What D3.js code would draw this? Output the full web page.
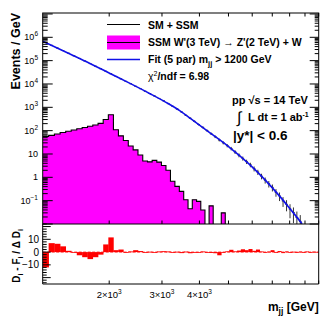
<!DOCTYPE html>
<html><head><meta charset="utf-8">
<script src="https://cdn.jsdelivr.net/npm/d3@7"></script>
<style>
html,body{margin:0;padding:0;background:#fff;}
svg{display:block;font-family:"Liberation Sans",Arial,Helvetica,sans-serif;}
</style></head><body>
<svg id="c" width="332" height="320"></svg>
<script>
// ---------- data ----------
const binEdges = [1200,1256,1313,1372,1432,1494,1559,1625,1693,1763,1836,1910,1987,2066,2147,2230,2316,2404,2495,2588,2684,2782,2883,2987,3093,3202,3313,3428,3545,3665,3787,3913,4042,4174,4308,4446,4587,4731,4878,5029,5183,5340,5500,5664,5831,6002,6177,6355,6537,6722,6911,7104,7301,7502,7707,7916,8129,8346,8568,8794,9024,9259,9498,9742,9990];
const signal = [56,63,72,83,94,107,120,137,154,175,205,300,480,110,60,38,22,15,9,5,4.6,5.3,4.5,3.2,2.0,0.68,0.41,0.25,0.11,0.045,0.11,0.093,0.04,0,0.06,0,0,0.03,0,0,0,0,0,0,0,0,0,0,0,0,0,0,0,0,0,0,0,0,0,0,0,0,0,0];
const dataValues = [6.0e5,4.55e5,3.49e5,2.70e5,2.09e5,1.60e5,1.24e5,9.7e4,7.5e4,5.8e4,4.5e4,3.5e4,2.75e4,2.11e4,1.65e4,1.30e4,1.02e4,8.0e3,6.3e3,4.9e3,3.9e3,3.06e3,2.39e3,1.89e3,1.44e3,1.10e3,843,634,454,341,251,183,138,101,74,55,40,30.3,22.8,17.2,12.2,8.9,6.5,4.7,3.45,2.35,1.68,1.12,0.76,0.53,0.37,0.23,0.16,0.098,0.07,0.044,0.031,0.019,0.013,0,0,0,0,0];
const dataRelErr = [0.004,0.004,0.005,0.005,0.006,0.006,0.007,0.007,0.008,0.009,0.01,0.011,0.012,0.013,0.015,0.016,0.018,0.02,0.022,0.025,0.028,0.03,0.034,0.038,0.042,0.047,0.052,0.058,0.065,0.072,0.08,0.09,0.1,0.11,0.12,0.13,0.14,0.15,0.16,0.17,0.18,0.19,0.2,0.21,0.22,0.24,0.25,0.27,0.29,0.31,0.33,0.36,0.4,0.45,0.5,0.6,0.65,0.8,0.85,0,0,0,0,0];
const residual = [-12,7,6.5,4.5,1,-0.5,-2.5,-4,-5.5,-4,-2,6,11.5,1.5,2,-0.5,0.5,1.5,0.8,-0.4,0.3,-0.6,0.5,0.7,0.5,-0.5,0.3,-0.8,0.4,-0.9,-0.5,-0.6,0.5,-0.3,-0.7,-0.9,-2.5,-0.4,0.6,1.8,0.6,1.2,2.2,1.5,2.4,1.0,2.0,0.5,-0.6,0.4,1.5,-0.3,0.8,-0.8,0.5,-0.6,0.3,-0.5,0.4,-0.3,0.5,-0.4,0.3,0.2];
const fitMass  = [1200,1480,1725,2013,2347,2736,3094,3446,3750,4338,5061,5900,6622,7430,8023,8531,8800];
const fitValue = [6.8e5,1.93e5,7.6e4,2.83e4,1.06e4,3.84e3,1630,706,321,81,18.5,3.43,0.78,0.149,0.045,0.017,0.0103];
const yTickValues = [1e-1,1,10,1e2,1e3,1e4,1e5,1e6];
const yTickLabels = [["10","\u22121"],["1",""],["10",""],["10","2"],["10","3"],["10","4"],["10","5"],["10","6"]];
const xTickValues = [2000,3000,4000];
const xTickLabels = [["2\u00d710","3"],["3\u00d710","3"],["4\u00d710","3"]];
const rTickValues = [-10,0,10];
const rTickLabels = ["\u221210","0","10"];
const legendLabels = ["SM + SSM","SSM W'(3 TeV) \u2192 Z'(2 TeV) + W","Fit (5 par) m","\u03c7"];

// ---------- layout ----------
const L=42.7, R=318.7, T=13, B1=224, B2=284;
const svg = d3.select("#c");
const x = d3.scaleLog().domain([1200,10000]).range([L,R]);
const y = d3.scaleLog().domain([0.01,1.1e7]).range([B1,T]);
const yr = d3.scaleLinear().domain([-25,22]).range([B2,B1]);

const bins = d3.range(signal.length).map(i=>({e0:binEdges[i],e1:binEdges[i+1],s:signal[i],d:dataValues[i],err:dataRelErr[i],r:residual[i]}));

const defs = svg.append("defs");
defs.append("clipPath").attr("id","cm").append("rect").attr("x",L).attr("y",T).attr("width",R-L).attr("height",B1-T);
defs.append("clipPath").attr("id","cr").append("rect").attr("x",L).attr("y",B1).attr("width",R-L).attr("height",B2-B1);

const main = svg.append("g").attr("clip-path","url(#cm)");
const yb = v => v>0 ? y(v) : B1+5;

// signal histogram: step outline + fill as one path
const pts=[];
bins.forEach(b=>{pts.push([x(b.e0),yb(b.s)]);pts.push([x(b.e1),yb(b.s)]);});
const fillPts = [[x(binEdges[0]),B1+5],...pts,[x(binEdges[binEdges.length-1]),B1+5]];
main.append("path").attr("d",d3.line()(fillPts)+"Z").attr("fill","#ff00ff").attr("stroke","none");
main.append("path").attr("d",d3.line()(pts)).attr("fill","none").attr("stroke","#000").attr("stroke-width",1.1);

// data points (vertical error bars + small marker)
const dg = main.append("g").attr("stroke","#000").attr("stroke-width",0.8);
bins.filter(b=>b.d>0).forEach(b=>{
  const xc = x(Math.sqrt(b.e0*b.e1)), yc=y(b.d);
  dg.append("line").attr("x1",xc-1.3).attr("x2",xc+1.3).attr("y1",yc).attr("y2",yc);
  const lo = b.d*(1-b.err), hi=b.d*(1+b.err);
  dg.append("line").attr("x1",xc).attr("x2",xc).attr("y1",lo>0?y(lo):B1+5).attr("y2",y(hi));
});

// fit
main.append("path")
  .attr("d",d3.line().x(d=>x(d[0])).y(d=>y(d[1])).curve(d3.curveMonotoneX)(fitMass.map((m,i)=>[m,fitValue[i]])))
  .attr("fill","none").attr("stroke","#1010e8").attr("stroke-width",1.6);

// residual panel
const rg = svg.append("g").attr("clip-path","url(#cr)");
rg.append("line").attr("x1",L).attr("x2",R).attr("y1",yr(0)).attr("y2",yr(0)).attr("stroke","#ff0000").attr("stroke-width",0.8).attr("stroke-dasharray","3,1.5");
rg.selectAll("rect").data(bins).join("rect")
  .attr("x",b=>x(b.e0)).attr("width",b=>x(b.e1)-x(b.e0)+0.3)
  .attr("y",b=>Math.min(yr(0),yr(b.r))).attr("height",b=>Math.max(0.8,Math.abs(yr(b.r)-yr(0))))
  .attr("fill","#ff0000");

// ---------- axes / frame ----------
const ax = svg.append("g").attr("stroke","#000").attr("stroke-width",1).attr("fill","none");
ax.append("rect").attr("x",L).attr("y",T).attr("width",R-L).attr("height",B1-T);
ax.append("path").attr("d",`M${L},${B1}V${B2}H${R}V${B1}`);

y.ticks().forEach(t=>{
  const lg = Math.log10(t), major = Math.abs(lg-Math.round(lg))<1e-6;
  const yy = y(t), len = major?10:5;
  ax.append("line").attr("x1",L).attr("x2",L+len).attr("y1",yy).attr("y2",yy);
  ax.append("line").attr("x1",R).attr("x2",R-len+1).attr("y1",yy).attr("y2",yy);
});
x.ticks().forEach(t=>{
  const xx=x(t);
  ax.append("line").attr("x1",xx).attr("x2",xx).attr("y1",B1).attr("y2",B1-3.5);
  ax.append("line").attr("x1",xx).attr("x2",xx).attr("y1",T).attr("y2",T+3.5);
  ax.append("line").attr("x1",xx).attr("x2",xx).attr("y1",B2).attr("y2",B2-3.5);
});
yr.ticks(20).forEach(t=>{
  const major = t%10===0;
  ax.append("line").attr("x1",L).attr("x2",L+(major?8:4)).attr("y1",yr(t)).attr("y2",yr(t));
});

const txt = svg.append("g").attr("fill","#000");
yTickValues.forEach((v,i)=>{
  const t = txt.append("text").attr("x",38).attr("y",y(v)+3).attr("text-anchor","end").attr("font-size",9);
  t.append("tspan").text(yTickLabels[i][0]);
  if(yTickLabels[i][1]) t.append("tspan").attr("dy",-4).attr("font-size",6.5).text(yTickLabels[i][1]);
});
rTickValues.forEach((v,i)=>{
  txt.append("text").attr("x",39).attr("y",yr(v)+3.5).attr("text-anchor","end").attr("font-size",10).text(rTickLabels[i]);
});
xTickValues.forEach((v,i)=>{
  const t = txt.append("text").attr("x",x(v)).attr("y",298).attr("text-anchor","middle").attr("font-size",9.5);
  t.append("tspan").text(xTickLabels[i][0]);
  t.append("tspan").attr("dy",-4).attr("font-size",6.5).text(xTickLabels[i][1]);
});

const xt = txt.append("text").attr("x",R).attr("y",311).attr("text-anchor","end").attr("font-size",12).attr("font-weight","bold");
xt.append("tspan").text("m");
xt.append("tspan").attr("dy",3).attr("font-size",8.5).text("jj");
xt.append("tspan").attr("dy",-3).text(" [GeV]");
txt.append("text").attr("transform",`translate(20,${T}) rotate(-90)`).attr("text-anchor","end")
  .attr("font-size",12.5).attr("font-weight","bold").text("Events / GeV");
const rt = txt.append("text").attr("transform",`translate(20,229) rotate(-90)`).attr("text-anchor","end")
  .attr("font-size",10).attr("font-weight","bold");
rt.append("tspan").text("D");
rt.append("tspan").attr("dy",2.5).attr("font-size",7).text("i");
rt.append("tspan").attr("dy",-2.5).text(" - F");
rt.append("tspan").attr("dy",2.5).attr("font-size",7).text("i");
rt.append("tspan").attr("dy",-2.5).text(" / \u0394 D");
rt.append("tspan").attr("dy",2.5).attr("font-size",7).text("i");

// legend
const lg = svg.append("g");
lg.append("line").attr("x1",107).attr("x2",140).attr("y1",24.5).attr("y2",24.5).attr("stroke","#000").attr("stroke-width",1.2);
lg.append("rect").attr("x",107).attr("y",35.5).attr("width",33).attr("height",14).attr("fill","#ff00ff");
lg.append("line").attr("x1",107).attr("x2",140).attr("y1",42.5).attr("y2",42.5).attr("stroke","#000").attr("stroke-width",1.2);
lg.append("line").attr("x1",107).attr("x2",140).attr("y1",59.5).attr("y2",59.5).attr("stroke","#1010e8").attr("stroke-width",1.5);
const lt = lg.append("g").attr("font-size",10.5).attr("font-weight","bold");
lt.append("text").attr("x",148).attr("y",28.5).text(legendLabels[0]);
lt.append("text").attr("x",148).attr("y",46).text(legendLabels[1]);
const ft = lt.append("text").attr("x",148).attr("y",63);
ft.append("tspan").text(legendLabels[2]);
ft.append("tspan").attr("dy",3).attr("font-size",7.5).text("jj");
ft.append("tspan").attr("dy",-3).text(" > 1200 GeV");
const ct = lt.append("text").attr("x",148).attr("y",80).attr("font-weight","normal");
ct.append("tspan").text(legendLabels[3]);
ct.append("tspan").attr("dy",-4).attr("font-size",7).text("2");
ct.append("tspan").attr("dy",4).attr("font-weight","bold").text("/ndf = 6.98");

// annotations
const an = svg.append("g").attr("font-weight","bold");
an.append("text").attr("x",232).attr("y",104).attr("font-size",11).text("pp  \u221as = 14 TeV");
an.append("text").attr("x",237).attr("y",123).attr("font-size",16).attr("font-weight","normal").text("\u222b");
const lt2 = an.append("text").attr("x",248).attr("y",121).attr("font-size",11);
lt2.append("tspan").text("L dt = 1 ab");
lt2.append("tspan").attr("dy",-4.5).attr("font-size",7).text("-1");
an.append("text").attr("x",233).attr("y",140).attr("font-size",13.5).text("|y*| < 0.6");
</script>
</body></html>
